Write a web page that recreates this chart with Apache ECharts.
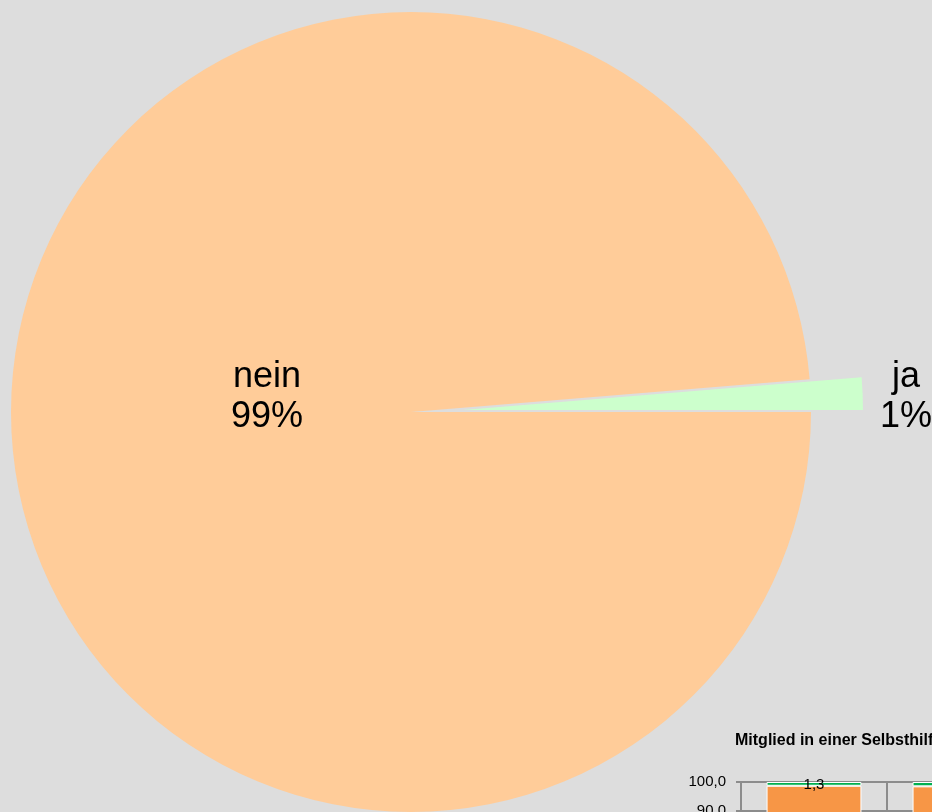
<!DOCTYPE html>
<html>
<head>
<meta charset="utf-8">
<script src="https://cdn.jsdelivr.net/npm/echarts@6/dist/echarts.min.js"></script>
<style>
html,body{margin:0;padding:0;background:#dddddd;overflow:hidden;width:932px;height:812px;}
#c{width:1400px;height:1100px;}
</style>
</head>
<body>
<div id="c"></div>
<script>
// Pie data (percent)
const pieCategories = ['ja', 'nein'];
const pieValues = [1.3, 98.7];
const pieColors = ['#CCFFCC', '#FFCC99'];

// Overlapping bar chart (bottom right)
const barTitle = 'Mitglied in einer Selbsthilfegruppe';
const barCategories = ['1', '2', '3', '4'];
const barNein = [98.7, 98.5, 98.6, 98.8];
const barJa = [1.3, 1.5, 1.4, 1.2];
const yTicks = [0, 10, 20, 30, 40, 50, 60, 70, 80, 90, 100];

const total = pieValues.reduce((a, b) => a + b, 0);
const jaAngle = pieValues[0] / total * 360;
const explode = 52;
const cx = 411, cy = 412, R = 400;
const mid = jaAngle / 2 * Math.PI / 180;
const cx2 = cx + explode * Math.cos(mid);
const cy2 = cy - explode * Math.sin(mid);

const chart = echarts.init(document.getElementById('c'));
const fmt = v => v.toFixed(1).replace('.', ',');

function pieSeries(visibleIndex, center, labelPos) {
  return {
    type: 'pie',
    center: center,
    radius: [0, R],
    startAngle: jaAngle,
    clockwise: true,
    percentPrecision: 0,
    silent: true,
    z: 1,
    data: pieCategories.map((n, i) => ({
      name: n,
      value: pieValues[i],
      itemStyle: { color: i === visibleIndex ? pieColors[i] : 'rgba(0,0,0,0)' },
      label: { show: i === visibleIndex }
    })),
    label: {
      show: true,
      position: 'inside',
      formatter: '{b}\n{d}%',
      fontFamily: 'Liberation Sans',
      fontSize: 36,
      lineHeight: 40,
      color: '#000',
      align: 'center',
      verticalAlign: 'middle'
    },
    labelLine: { show: false },
    labelLayout: function () { return { x: labelPos[0], y: labelPos[1] }; }
  };
}

chart.setOption({
  backgroundColor: '#dddddd',
  animation: false,
  title: {
    text: barTitle,
    left: 730,
    top: 728,
    textStyle: { fontFamily: 'Liberation Sans', fontSize: 16, fontWeight: 'bold', color: '#000' }
  },
  grid: { left: 741, top: 782, width: 584, height: 290, containLabel: false },
  xAxis: {
    type: 'category',
    data: barCategories,
    axisLine: { show: true, lineStyle: { color: '#8c8c8c', width: 2 } },
    axisTick: { show: false },
    splitLine: { show: true, interval: 0, lineStyle: { color: '#8c8c8c', width: 2 } },
    axisLabel: { show: true }
  },
  yAxis: {
    type: 'value',
    min: yTicks[0],
    max: yTicks[yTicks.length - 1],
    interval: 10,
    axisLine: { show: true, lineStyle: { color: '#8c8c8c', width: 2 } },
    axisTick: { show: true, length: 5, lineStyle: { color: '#8c8c8c', width: 2 } },
    splitLine: { show: true, lineStyle: { color: '#8c8c8c', width: 2 } },
    axisLabel: { margin: 15, fontFamily: 'Liberation Sans', fontSize: 15, color: '#000', formatter: v => fmt(v) }
  },
  series: [
    {
      type: 'bar',
      stack: 's',
      data: barNein,
      barCategoryGap: '35%',
      itemStyle: { color: '#F79646', borderColor: '#ffffff', borderWidth: 1 },
      z: 3
    },
    {
      type: 'bar',
      stack: 's',
      data: barJa,
      itemStyle: { color: '#00B050', borderColor: '#ffffff', borderWidth: 1 },
      label: {
        show: true, position: 'inside', color: '#000',
        fontFamily: 'Liberation Sans', fontSize: 15, offset: [0, 1],
        formatter: p => fmt(p.value)
      },
      z: 3
    },
    pieSeries(1, [cx, cy], [267, 397]),
    pieSeries(0, [cx2, cy2], [906, 397])
  ]
});
</script>
</body>
</html>
